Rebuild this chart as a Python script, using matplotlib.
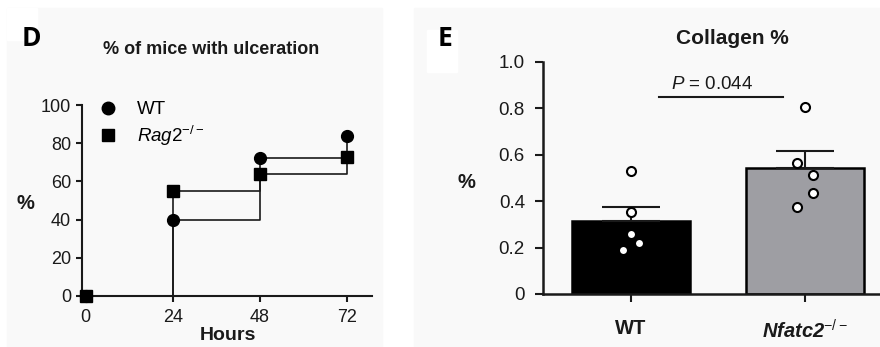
#!/usr/bin/env python3
"""Ulceration time course (D) and collagen bar chart (E)."""

import matplotlib

matplotlib.use("Agg")
import matplotlib.pyplot as plt
from matplotlib.lines import Line2D
from matplotlib.patches import Rectangle

# panel D: % of mice with ulceration
hours = [0, 24, 48, 72]
wt_pct = [0, 40, 72, 84]
rag2_pct = [0, 55, 64, 73]
hour_ticks = [0, 24, 48, 72]
pct_ticks = [0, 20, 40, 60, 80, 100]

# panel E: collagen %
groups = ["WT", r"$\mathbfit{Nfatc2}^{-/-}$"]
collagen_mean = [0.315, 0.542]
collagen_sem = [0.059, 0.074]
wt_points = [0.530, 0.354, 0.258, 0.191, 0.219]
wt_jitter = [0.0, 0.0, 0.0, -0.045, 0.045]
ko_points = [0.807, 0.566, 0.514, 0.437, 0.377]
ko_jitter = [0.0, -0.045, 0.045, 0.045, -0.045]
collagen_ticks = [0, 0.2, 0.4, 0.6, 0.8, 1.0]
collagen_ticklabels = ["0", "0.2", "0.4", "0.6", "0.8", "1.0"]
p_text = r"$\mathit{P}$ = 0.044"

plt.rcParams["font.family"] = ["Liberation Sans", "DejaVu Sans"]
plt.rcParams["mathtext.fontset"] = "custom"
plt.rcParams["mathtext.rm"] = "Liberation Sans"
plt.rcParams["mathtext.it"] = "Liberation Sans:italic"
plt.rcParams["mathtext.bf"] = "Liberation Sans:bold"
plt.rcParams["mathtext.bfit"] = "Liberation Sans:italic:bold"

W, H = 880, 347
fig = plt.figure(figsize=(W / 100, H / 100), dpi=100)
fig.patch.set_facecolor("white")


def px(x, y):
    return x / W, 1 - y / H


# faint panel backgrounds
bg = "#f9f9f9"
for (x0, y0, w, h, c) in [(7, 347, 375, 339, bg), (7, 40, 30, 32, "white"),
                          (414, 347, 466, 339, bg), (427, 72, 30, 42, "white")]:
    fig.patches.append(Rectangle(px(x0, y0), w / W, h / H, transform=fig.transFigure,
                                 color=c, zorder=-10))

ink = "#1a1a1a"

# ---------------- panel D ----------------
axd = fig.add_axes([82 / W, 51 / H, 290 / W, 191 / H])
axd.patch.set_alpha(0)
axd.step(hours, wt_pct, where="post", color=ink, lw=1.2, zorder=2)
axd.step(hours, rag2_pct, where="post", color=ink, lw=1.2, zorder=2)
axd.plot(hours, wt_pct, "o", color="black", ms=8.5, clip_on=False, zorder=3)
axd.plot(hours, rag2_pct, "s", color="black", ms=8, clip_on=False, zorder=4)
axd.set_xlim(-1, 79)
axd.set_ylim(0, 100)
axd.set_xticks(hour_ticks)
axd.set_yticks(pct_ticks)
axd.tick_params(labelsize=13, width=1.5, length=4, colors=ink, pad=4)
axd.tick_params(axis="x", pad=5)
for s in ["top", "right"]:
    axd.spines[s].set_visible(False)
for s in ["left", "bottom"]:
    axd.spines[s].set_linewidth(1.5)
    axd.spines[s].set_color(ink)

handles = [
    Line2D([], [], marker="o", ls="none", color="black", ms=9),
    Line2D([], [], marker="s", ls="none", color="black", ms=8.5),
]
axd.legend(handles, ["WT", r"$\mathit{Rag2}^{-/-}$"], loc="upper left",
           bbox_to_anchor=px(100, 101), bbox_transform=fig.transFigure,
           frameon=False, fontsize=13.5, handlelength=0.9, handletextpad=1.05,
           labelspacing=0.3, borderpad=0, borderaxespad=0)

fig.text(*px(31, 38), "D", fontsize=19, fontweight="bold", family="Open Sans",
         ha="center", va="center")
fig.text(*px(211, 50), "% of mice with ulceration", fontsize=13, fontweight="bold",
         color=ink, ha="center", va="center")
fig.text(*px(25, 203), "%", fontsize=14.5, fontweight="bold", color=ink,
         ha="center", va="center")
fig.text(*px(228, 336), "Hours", fontsize=14, fontweight="bold", color=ink,
         ha="center", va="center")

# ---------------- panel E ----------------
axe = fig.add_axes([543 / W, 53 / H, 338 / W, 232 / H])
axe.patch.set_alpha(0)
xpos = list(range(len(groups)))
axe.bar(xpos, collagen_mean, width=0.675, color=["black", "#9e9ea3"],
        edgecolor="black", linewidth=1.8, zorder=2)
axe.errorbar(xpos, collagen_mean, yerr=[[0, 0], collagen_sem], fmt="none",
             ecolor=ink, elinewidth=1.5, capsize=21, capthick=1.5, zorder=3)
axe.plot([xpos[0] + j for j in wt_jitter], wt_points, "o", mfc="white", mec="black",
         mew=1.5, ms=6.5, zorder=4, clip_on=False)
axe.plot([xpos[1] + j for j in ko_jitter], ko_points, "o", mfc="white", mec="black",
         mew=1.5, ms=6.5, zorder=4, clip_on=False)
axe.plot([0.16, 0.875], [0.85, 0.85], color=ink, lw=1.5)
axe.text(0.465, 0.905, p_text, fontsize=13.5, color=ink, ha="center", va="center")
axe.set_xlim(-0.503, 1.435)
axe.set_ylim(0, 1.0)
axe.set_xticks(xpos)
axe.set_xticklabels(groups, fontsize=14.5, fontweight="bold")
axe.set_yticks(collagen_ticks)
axe.set_yticklabels(collagen_ticklabels, fontsize=13.5)
axe.tick_params(width=1.5, length=6, colors=ink)
axe.tick_params(axis="y", pad=7)
axe.tick_params(axis="x", pad=12)
for s in ["top", "right"]:
    axe.spines[s].set_visible(False)
for s in ["left", "bottom"]:
    axe.spines[s].set_linewidth(1.8)
    axe.spines[s].set_color(ink)

fig.text(*px(445, 39), "E", fontsize=19, fontweight="bold", family="Open Sans",
         ha="center", va="center")
fig.text(*px(732, 38), "Collagen %", fontsize=15, fontweight="bold", color=ink,
         ha="center", va="center")
fig.text(*px(466, 183), "%", fontsize=14.5, fontweight="bold", color=ink,
         ha="center", va="center")

fig.savefig("out.png", dpi=100)
